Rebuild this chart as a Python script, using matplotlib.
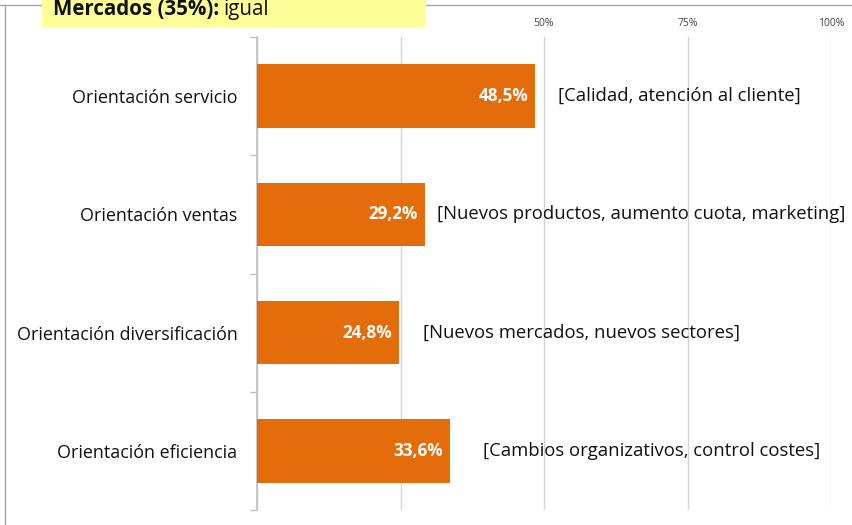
"""Orientación estratégica: Mercados (35%) - horizontal bar chart."""

import matplotlib

matplotlib.use("Agg")
import matplotlib.pyplot as plt  # noqa: E402
from matplotlib.lines import Line2D  # noqa: E402
from matplotlib.patches import Rectangle  # noqa: E402

categories = [
    "Orientación servicio",
    "Orientación ventas",
    "Orientación diversificación",
    "Orientación eficiencia",
]
values = [48.5, 29.2, 24.8, 33.6]
value_labels = ["48,5%", "29,2%", "24,8%", "33,6%"]
notes = [
    "[Calidad, atención al cliente]",
    "[Nuevos productos, aumento cuota, marketing]",
    "[Nuevos mercados, nuevos sectores]",
    "[Cambios organizativos, control costes]",
]
note_offsets = [16, 9, 17, 24]  # points right of bar end
x_ticks = [0, 25, 50, 75, 100]
x_tick_labels = ["0%", "25%", "50%", "75%", "100%"]

ORANGE = "#E46C0A"
W, H = 852, 525

plt.rcParams["font.family"] = ["Open Sans", "DejaVu Sans"]

fig = plt.figure(figsize=(W / 100, H / 100), dpi=100)
ax = fig.add_axes([257 / W, 1 - 510 / H, (831 - 257) / W, (510 - 37) / H])

y = list(range(len(categories)))
ax.barh(y, values, height=0.535, color=ORANGE, zorder=3)

for yi, v, lab, note, off in zip(y, values, value_labels, notes, note_offsets):
    ax.annotate(lab, (v, yi), xytext=(-5, 0), textcoords="offset points",
                ha="right", va="center", color="white", fontweight="bold",
                fontsize=12.3, zorder=4)
    ax.annotate(note, (v, yi), xytext=(off, 0), textcoords="offset points",
                ha="left", va="center", color="#111111", fontsize=13.3,
                zorder=4)

ax.set_xlim(0, 100)
ax.set_ylim(len(categories) - 0.5, -0.5)
ax.set_xticks(x_ticks)
ax.set_xticklabels(x_tick_labels, fontsize=7.5, color="#444444")
ax.xaxis.tick_top()
ax.tick_params(axis="x", length=0, pad=6)
ax.xaxis.grid(True, color="#d4d4d4", linewidth=1.0)
ax.set_axisbelow(True)

ax.set_yticks(y)
ax.set_yticklabels(categories, fontsize=12.9, color="#111111")
ax.set_yticks([i - 0.5 for i in range(len(categories) + 1)], minor=True)
ax.tick_params(axis="y", which="major", length=0, pad=14)
ax.tick_params(axis="y", which="minor", length=5, color="#bfbfbf", width=1)

for side in ("top", "right", "bottom"):
    ax.spines[side].set_visible(False)
ax.spines["left"].set_color("#bfbfbf")
ax.spines["left"].set_linewidth(1.2)

# outer slide frame
fig.add_artist(Line2D([0, 1], [1 - 5 / H, 1 - 5 / H], transform=fig.transFigure,
                      color="#a6a6a6", linewidth=1))
fig.add_artist(Line2D([5 / W, 5 / W], [0, 1 - 5 / H], transform=fig.transFigure,
                      color="#a6a6a6", linewidth=1))

# yellow title box (covers the 0% / 25% labels, as on the slide)
fig.add_artist(Rectangle((42 / W, 1 - 27 / H), (426 - 42) / W, 27 / H,
                         transform=fig.transFigure, facecolor="#FFFF99",
                         edgecolor="none", zorder=5))
t1 = fig.text(53 / W, 1 - 15 / H, "Mercados (35%):", fontsize=14.8,
              fontweight="bold", va="baseline", ha="left", color="#111111",
              zorder=6)
fig.canvas.draw()
bb = t1.get_window_extent()
fig.text(bb.x1 / W + 4 / W, 1 - 15 / H, "igual", fontsize=14.8,
         va="baseline", ha="left", color="#111111", zorder=6)

fig.savefig("out.png", dpi=100, facecolor="white")
